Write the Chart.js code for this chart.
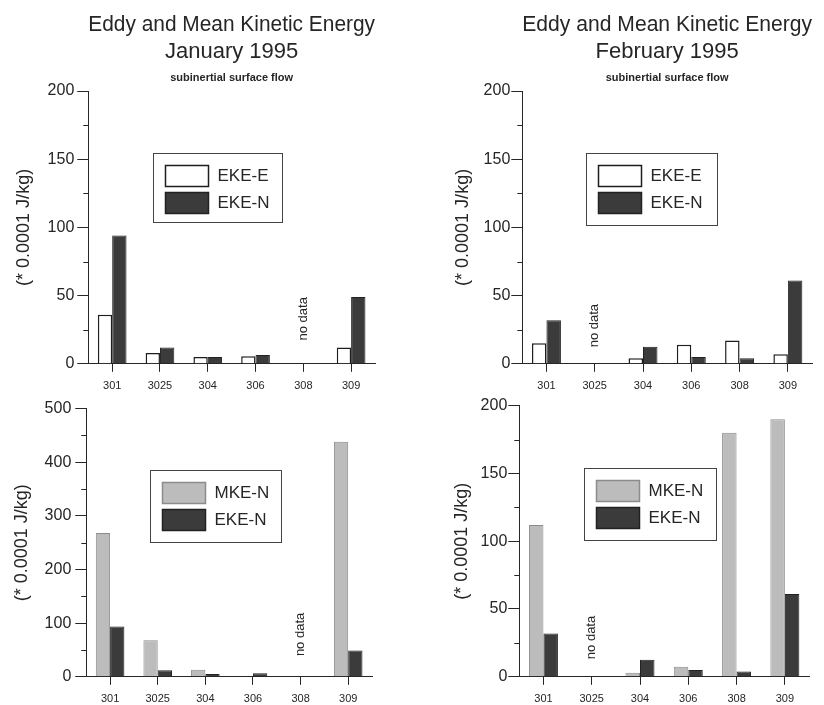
<!DOCTYPE html>
<html>
<head>
<meta charset="utf-8">
<script src="https://cdn.jsdelivr.net/npm/chart.js@4.4.1/dist/chart.umd.min.js"></script>
<style>
  body { margin: 0; background: #fff; }
  #wrap { position: relative; width: 824px; height: 705px; overflow: hidden; }
  #wrap canvas { position: absolute; }
</style>
</head>
<body>
<div id="wrap">
  <canvas id="janTop" width="412" height="395" style="left:0;top:0"></canvas>
  <canvas id="febTop" width="412" height="395" style="left:412px;top:0"></canvas>
  <canvas id="janBottom" width="412" height="310" style="left:0;top:395px"></canvas>
  <canvas id="febBottom" width="412" height="310" style="left:412px;top:395px"></canvas>
</div>
<script>
// mooring stations along the x axis
const stations = ["301", "3025", "304", "306", "308", "309"];

// January 1995 (* 0.0001 J/kg), null = no data
const janEkeE = [36, 8, 5, 5.5, null, 12];
const janEkeN = [94, 12, 5, 6.5, null, 49];
const janMkeN = [268, 68, 13, 0, null, 438];

// February 1995
const febEkeE = [15, null, 4, 14, 17, 7];
const febEkeN = [32, null, 12.5, 5, 4, 61];
const febMkeN = [112, null, 3, 7.5, 180, 190];

const FONT = "'Liberation Sans', Arial, Helvetica, sans-serif";
const INK = "#262626";
const DARK = "#3b3b3b";
const LIGHT = "#bcbcbc";

Chart.defaults.font.family = FONT;
Chart.defaults.color = INK;

// minor y ticks, "no data" note and the boxed legend
const panelDecor = {
    id: "panelDecor",
    afterDraw(chart, args, opts) {
        const ctx = chart.ctx;
        const area = chart.chartArea;
        const x = chart.scales.x;
        const y = chart.scales.y;

        ctx.save();
        ctx.strokeStyle = INK;
        ctx.lineWidth = 1;
        y.ticks.forEach(t => {
            if (t.value % opts.major !== 0) {
                const py = Math.round(y.getPixelForValue(t.value)) + 0.5;
                ctx.beginPath();
                ctx.moveTo(area.left - 5, py);
                ctx.lineTo(area.left, py);
                ctx.stroke();
            }
        });
        ctx.restore();

        // no data
        ctx.save();
        ctx.translate(x.getPixelForValue(stations.indexOf(opts.noData.station)), y.getPixelForValue(opts.noData.at));
        ctx.rotate(-Math.PI / 2);
        ctx.font = "13px " + FONT;
        ctx.fillStyle = INK;
        ctx.textAlign = "center";
        ctx.textBaseline = "middle";
        ctx.fillText("no data", 0, 0);
        ctx.restore();

        // legend
        const lg = opts.legend;
        const bx = Math.round(area.left + lg.dx) + 0.5;
        const by = Math.round(area.top + lg.dy) + 0.5;
        ctx.save();
        ctx.strokeStyle = "#444";
        ctx.lineWidth = 1;
        ctx.fillStyle = "#fff";
        ctx.fillRect(bx, by, lg.w, lg.h);
        ctx.strokeRect(bx, by, lg.w, lg.h);
        ctx.font = "17px " + FONT;
        ctx.textBaseline = "middle";
        chart.data.datasets.forEach((ds, i) => {
            const sx = bx + 12;
            const sy = by + 12 + i * 27;
            ctx.fillStyle = ds.backgroundColor;
            ctx.fillRect(sx, sy, 43, 21);
            ctx.strokeStyle = ds.borderColor;
            ctx.lineWidth = 1.5;
            ctx.strokeRect(sx, sy, 43, 21);
            ctx.fillStyle = INK;
            ctx.fillText(ds.label, bx + 64, sy + 11);
        });
        ctx.restore();
    }
};

function makePanel(id, cfg) {
    return new Chart(document.getElementById(id), {
        type: "bar",
        data: {
            labels: stations,
            datasets: cfg.datasets
        },
        options: {
            responsive: false,
            animation: false,
            events: [],
            categoryPercentage: 0.6,
            barPercentage: 1,
            layout: {
                padding: cfg.padding
            },
            scales: {
                x: {
                    offset: true,
                    grid: {
                        drawOnChartArea: false,
                        offset: false,
                        tickLength: 8,
                        tickColor: INK
                    },
                    border: { color: INK },
                    ticks: {
                        color: INK,
                        font: { size: 11 },
                        padding: 8,
                        autoSkip: false,
                        maxRotation: 0
                    }
                },
                y: {
                    min: 0,
                    max: cfg.max,
                    grid: {
                        drawOnChartArea: false,
                        tickLength: 11,
                        tickColor: c => (c.tick && c.tick.value % cfg.major !== 0) ? "rgba(0,0,0,0)" : INK
                    },
                    border: { color: INK },
                    ticks: {
                        stepSize: cfg.major / 2,
                        autoSkip: false,
                        padding: cfg.tickPad,
                        color: INK,
                        font: { size: 16 },
                        callback: v => v % cfg.major === 0 ? v : ""
                    },
                    title: {
                        display: true,
                        text: "(* 0.0001 J/kg)",
                        color: INK,
                        font: { size: 18 },
                        padding: cfg.titlePad
                    }
                }
            },
            plugins: {
                legend: { display: false },
                tooltip: { enabled: false },
                title: {
                    display: !!cfg.title,
                    text: cfg.title || "",
                    fullSize: false,
                    color: INK,
                    font: { size: 22, weight: "normal" },
                    padding: { top: 12, bottom: 0 }
                },
                subtitle: {
                    display: !!cfg.title,
                    text: "subinertial surface flow",
                    fullSize: false,
                    color: INK,
                    font: { size: 11, weight: "bold" },
                    padding: { top: 7, bottom: 6 }
                },
                panelDecor: {
                    major: cfg.major,
                    noData: cfg.noData,
                    legend: cfg.legend
                }
            }
        },
        plugins: [panelDecor]
    });
}

function eddyE(data) {
    return { label: "EKE-E", data: data, backgroundColor: "#ffffff", borderColor: "#1e1e1e", borderWidth: 1.5 };
}
function eddyN(data) {
    return { label: "EKE-N", data: data, backgroundColor: DARK, borderColor: "#222", borderWidth: 1 };
}
function meanN(data) {
    return { label: "MKE-N", data: data, backgroundColor: LIGHT, borderColor: "#8c8c8c", borderWidth: 1 };
}

makePanel("janTop", {
    title: ["Eddy and Mean Kinetic Energy", "January 1995"],
    datasets: [eddyE(janEkeE), eddyN(janEkeN)],
    max: 200, major: 50, tickPad: 3,
    padding: { left: 9, right: 37, top: 0, bottom: -6 },
    titlePad: { top: 4, bottom: 10 },
    noData: { station: "308", at: 33 },
    legend: { dx: 65, dy: 62, w: 129, h: 69 }
});

makePanel("febTop", {
    title: ["Eddy and Mean Kinetic Energy", "February 1995"],
    datasets: [eddyE(febEkeE), eddyN(febEkeN)],
    max: 200, major: 50, tickPad: 1,
    padding: { left: 36, right: 12, top: 0, bottom: -6 },
    titlePad: { top: 4, bottom: 9 },
    noData: { station: "3025", at: 28 },
    legend: { dx: 64, dy: 62, w: 131, h: 72 }
});

makePanel("janBottom", {
    datasets: [meanN(janMkeN), eddyN(janEkeN)],
    max: 500, major: 100, tickPad: 4,
    padding: { left: 7, right: 40, top: 0, bottom: -9 },
    titlePad: { top: 4, bottom: 8 },
    noData: { station: "308", at: 79 },
    legend: { dx: 64, dy: 61, w: 131, h: 72 }
});

makePanel("febBottom", {
    datasets: [meanN(febMkeN), eddyN(febEkeN)],
    max: 200, major: 50, tickPad: 1,
    padding: { left: 35, right: 15, top: 0, bottom: -9 },
    titlePad: { top: 4, bottom: 7 },
    noData: { station: "3025", at: 29 },
    legend: { dx: 65, dy: 62, w: 132, h: 72 }
});
</script>
</body>
</html>
